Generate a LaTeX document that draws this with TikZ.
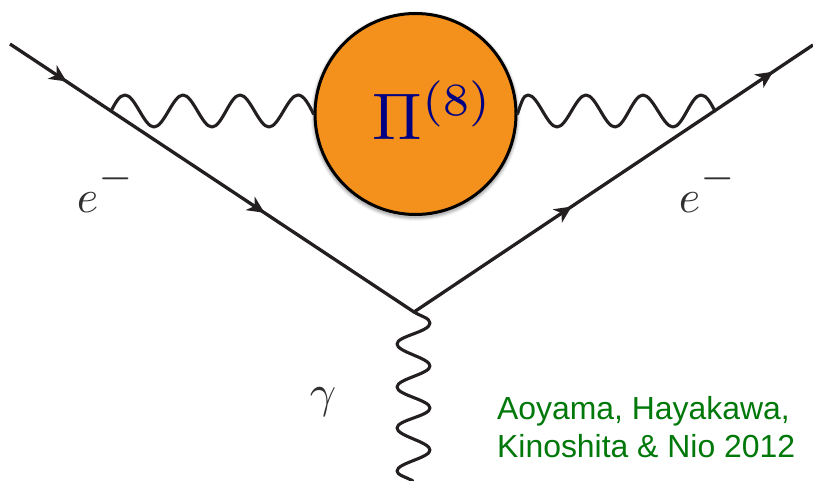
\documentclass[tikz,border=0pt]{standalone}
\usepackage{graphicx}
\usepackage{fontspec}
\setsansfont{Liberation Sans}
\usetikzlibrary{arrows.meta,decorations.markings}
\definecolor{ink}{HTML}{231F20}
\definecolor{blobfill}{HTML}{F4901C}
\definecolor{piblue}{RGB}{0,0,130}
\definecolor{credit}{RGB}{0,120,10}
\definecolor{labelgrey}{HTML}{303030}
\newcommand{\elecminus}{$e^{\raisebox{1.5pt}{\scalebox{1.2}{$\scriptstyle -$}}}$}
\tikzset{
  fermion/.style={draw=ink,line width=3.3pt},
  photon/.style={draw=ink,line width=3.1pt,line cap=round,line join=round},
  flow/.style 2 args={postaction={decorate},decoration={markings,
    mark=at position #1 with {\arrow[ink]{Stealth[length=17pt,width=16pt,inset=5pt]}},
    mark=at position #2 with {\arrow[ink]{Stealth[length=17pt,width=16pt,inset=5pt]}}}},
  blob/.style={circle,draw=black,line width=3pt,fill=blobfill,minimum size=201pt,inner sep=0pt},
  pilabel/.style={text=piblue,inner sep=0pt,scale=6.6},
  elabel/.style={text=labelgrey,inner sep=0pt,scale=4.6},
  creditlabel/.style={text=credit,inner sep=0pt,align=left,font=\sffamily\fontsize{31.9}{38}\selectfont}
}
\begin{document}
\begin{tikzpicture}[x=1pt,y=-1pt]
\useasboundingbox (0,0) rectangle (813,481);
\fill[white] (0,0) rectangle (813,481);
% named points
\coordinate (inL) at (10,44);
\coordinate (vtx) at (414,312);
\coordinate (outR) at (813,45);
\coordinate (joinL) at (111,111);
\coordinate (joinR) at (715,111);
\coordinate (photonEnd) at (413,481);
% soft shadow of the blob
\foreach \r/\o in {105/0.04,104/0.06,103/0.08,102/0.10}
  \fill[black,opacity=\o] (415.5,116) circle (\r);
\node[blob] (blob) at (415.5,114) {};
% fermion lines
\path[fermion,flow={0.14}{0.63}] (inL) -- (vtx);
\path[fermion,flow={0.395}{0.90}] (vtx) -- (outR);
% left photon
\draw[photon] (joinL) .. controls (115,104) and (119,95) .. (125,95)
  .. controls (135,95) and (144,127) .. (154,127)
  .. controls (164,127) and (173,95) .. (183,95)
  .. controls (193,95) and (202,127) .. (212,127)
  .. controls (222,127) and (230,95) .. (240,95)
  .. controls (250,95) and (259,127) .. (269,127)
  .. controls (279,127) and (288,95) .. (298,95)
  .. controls (304,95) and (309,105) .. (blob.west);
% right photon
\draw[photon] (blob.east) .. controls (521,104) and (523,95) .. (528,95)
  .. controls (538,95) and (547,127) .. (557,127)
  .. controls (567,127) and (576,95) .. (586,95)
  .. controls (596,95) and (605,127) .. (615,127)
  .. controls (625,127) and (633,95) .. (643,95)
  .. controls (653,95) and (663,127) .. (673,127)
  .. controls (683,127) and (691,95) .. (701,95)
  .. controls (707,95) and (711,104) .. (joinR);
% bottom photon
\draw[photon] (vtx) .. controls (420,316) and (430,318) .. (430,323)
  .. controls (430,332) and (397,336) .. (397,344)
  .. controls (397,352) and (430,358) .. (430,366)
  .. controls (430,374) and (397,379) .. (397,387)
  .. controls (397,395) and (430,400) .. (430,408)
  .. controls (430,416) and (397,420) .. (397,428)
  .. controls (397,436) and (430,442) .. (430,450)
  .. controls (430,458) and (397,463) .. (397,471)
  .. controls (397,475) and (406,477) .. (photonEnd);
% labels
\node[pilabel,anchor=base west] (pi) at (371.5,139.5) {$\Pi^{(8)}$};
\node[elabel,anchor=base west] (eL) at (76,212) {\elecminus};
\node[elabel,anchor=base west] (eR) at (678,212) {\elecminus};
\node[elabel,anchor=base west] (gam) at (309,407) {$\gamma$};
\node[creditlabel,anchor=north west] (cite) at (497,396) {Aoyama, Hayakawa,\\Kinoshita \& Nio 2012};
\end{tikzpicture}
\end{document}
